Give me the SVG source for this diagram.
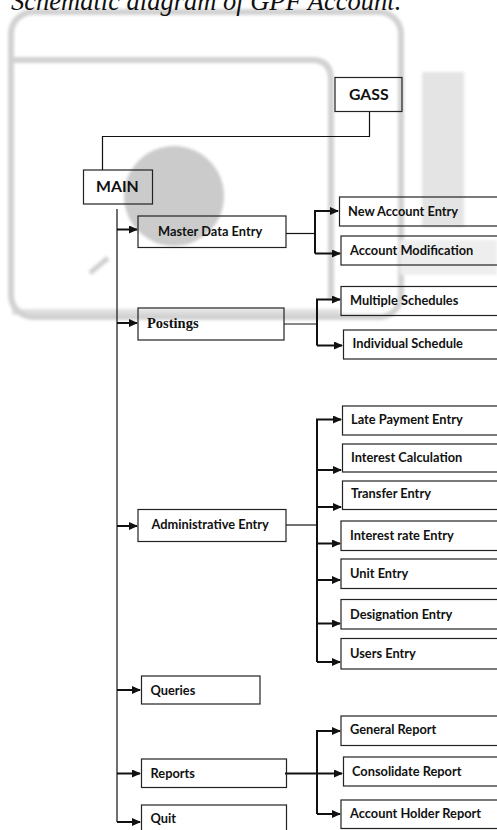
<svg xmlns="http://www.w3.org/2000/svg" width="497" height="830" viewBox="0 0 497 830">
<style>
.bx{fill:none;stroke:#222;stroke-width:1.2}
.t{font-family:Lato,"Liberation Sans",sans-serif;font-weight:bold;font-size:12.8px;fill:#111}
.big{font-size:15.8px}
.ln{fill:none;stroke:#111;stroke-width:1.2}
.ar{fill:none;stroke:#111;stroke-width:2}
.wm{fill:none;stroke:#d2d2d2;stroke-width:6}
</style>
<defs>
<marker id="ah" markerUnits="userSpaceOnUse" markerWidth="9" markerHeight="8" refX="8" refY="4" orient="auto">
<path d="M0,0 L9,4 L0,8 Z" fill="#111"/>
</marker>
<filter id="bl" x="-10%" y="-10%" width="120%" height="120%"><feGaussianBlur stdDeviation="1.5"/></filter>
</defs>
<rect width="497" height="830" fill="#fff"/>
<g id="watermark" filter="url(#bl)">
<rect x="11" y="12" width="390" height="305" rx="22" class="wm"/>
<path d="M12,60 L312,60 Q331,60 331,80 L331,300" class="wm" stroke-width="7"/>
<path d="M12,312 L340,312" class="wm" stroke-width="10" opacity="0.7"/>
<circle cx="174" cy="196" r="50" fill="#cbcbcb"/>
<rect x="422" y="72" width="42" height="155" fill="#e4e4e4"/>
<rect x="400" y="240" width="97" height="35" fill="#eeeeee"/>
<path d="M90,273 L108,258" stroke="#d0d0d0" stroke-width="5"/>
</g>
<text x="11" y="10" font-family="'Liberation Serif',serif" font-style="italic" font-size="26.5" fill="#111">Schematic diagram of GPF Account.</text>
<g id="connectors">
<path class="ln" d="M369.5,112 V136.5 H102.5 V170"/>
<path class="ln" d="M117,209 V822"/>
<path class="ar" d="M117,229.5 H137" marker-end="url(#ah)"/>
<path class="ar" d="M117,323 H137" marker-end="url(#ah)"/>
<path class="ar" d="M117,526 H137" marker-end="url(#ah)"/>
<path class="ar" d="M117,690 H140" marker-end="url(#ah)"/>
<path class="ar" d="M117,773.5 H140" marker-end="url(#ah)"/>
<path class="ar" d="M117,822 H140" marker-end="url(#ah)"/>
<path class="ln" d="M286,233.5 H315"/>
<path class="ar" d="M315,253.5 V211 H338" marker-end="url(#ah)"/>
<path class="ar" d="M315,253.5 H340" marker-end="url(#ah)"/>
<path class="ln" d="M284,324 H317"/>
<path class="ar" d="M317,345.5 V299.5 H340" marker-end="url(#ah)"/>
<path class="ar" d="M317,345.5 H342" marker-end="url(#ah)"/>
<path class="ln" d="M286,525 H317"/>
<path class="ar" d="M317,662 V419.5 H341" marker-end="url(#ah)"/>
<path class="ar" d="M317,470 H341" marker-end="url(#ah)"/>
<path class="ar" d="M317,507 H341" marker-end="url(#ah)"/>
<path class="ar" d="M317,543.5 H340" marker-end="url(#ah)"/>
<path class="ar" d="M317,580 H340" marker-end="url(#ah)"/>
<path class="ar" d="M317,623.5 H340" marker-end="url(#ah)"/>
<path class="ar" d="M317,662 H340" marker-end="url(#ah)"/>
<path class="ar" d="M285,773.5 H342" marker-end="url(#ah)"/>
<path class="ar" d="M317,814 V731 H340" marker-end="url(#ah)"/>
<path class="ar" d="M317,814 H340" marker-end="url(#ah)"/>
</g>
<g id="gass"><rect class="bx" x="335" y="77.5" width="67" height="34"/><text class="t big" x="349" y="100">GASS</text></g>
<g id="main"><rect class="bx" x="83.5" y="170" width="69" height="34"/><text class="t big" x="96" y="192">MAIN</text></g>
<g id="master"><rect class="bx" x="138" y="216" width="148" height="31.5"/><text class="t" x="158" y="235.5" font-size="12.3">Master Data Entry</text></g>
<g id="newacc"><rect class="bx" x="339.5" y="197" width="170" height="29"/><text class="t" x="348" y="215.5">New Account Entry</text></g>
<g id="accmod"><rect class="bx" x="341" y="236" width="170" height="29"/><text class="t" x="350" y="254.5">Account Modification</text></g>
<g id="postings"><rect class="bx" x="138" y="308" width="146" height="32"/><text x="147" y="328" font-family="'Liberation Serif',serif" font-weight="bold" font-size="14.5" fill="#111">Postings</text></g>
<g id="multi"><rect class="bx" x="341" y="286.5" width="170" height="29"/><text class="t" x="350" y="305">Multiple Schedules</text></g>
<g id="indiv"><rect class="bx" x="343.5" y="330" width="170" height="29"/><text class="t" x="352.5" y="347.5">Individual Schedule</text></g>
<g id="admin"><rect class="bx" x="138" y="509.5" width="148" height="32"/><text class="t" x="151.5" y="529">Administrative Entry</text></g>
<g id="late"><rect class="bx" x="342.5" y="406" width="170" height="29"/><text class="t" x="351" y="424">Late Payment Entry</text></g>
<g id="intcalc"><rect class="bx" x="342.5" y="444" width="170" height="28"/><text class="t" x="351" y="461.5">Interest Calculation</text></g>
<g id="transfer"><rect class="bx" x="342.5" y="481" width="170" height="28.5"/><text class="t" x="351" y="498">Transfer Entry</text></g>
<g id="intrate"><rect class="bx" x="341" y="521" width="170" height="29.5"/><text class="t" x="350" y="540">Interest rate Entry</text></g>
<g id="unit"><rect class="bx" x="341" y="559" width="170" height="29.5"/><text class="t" x="350" y="578">Unit Entry</text></g>
<g id="desig"><rect class="bx" x="341" y="599.5" width="170" height="29.5"/><text class="t" x="350" y="618.5">Designation Entry</text></g>
<g id="users"><rect class="bx" x="341" y="638.5" width="170" height="30.5"/><text class="t" x="350" y="658">Users Entry</text></g>
<g id="queries"><rect class="bx" x="141.5" y="676" width="118.5" height="28"/><text class="t" x="150.5" y="694.5">Queries</text></g>
<g id="reports"><rect class="bx" x="141.5" y="759" width="145" height="28.5"/><text class="t" x="150.5" y="777.5">Reports</text></g>
<g id="quit"><rect class="bx" x="141.5" y="805" width="145" height="40"/><text class="t" x="150.5" y="822.5">Quit</text></g>
<g id="general"><rect class="bx" x="341" y="716" width="170" height="29.5"/><text class="t" x="350" y="734">General Report</text></g>
<g id="consol"><rect class="bx" x="343.5" y="757" width="170" height="29"/><text class="t" x="352" y="775.5">Consolidate Report</text></g>
<g id="holder"><rect class="bx" x="341" y="800" width="170" height="28.5"/><text class="t" x="350" y="817.5">Account Holder Report</text></g>
</svg>
